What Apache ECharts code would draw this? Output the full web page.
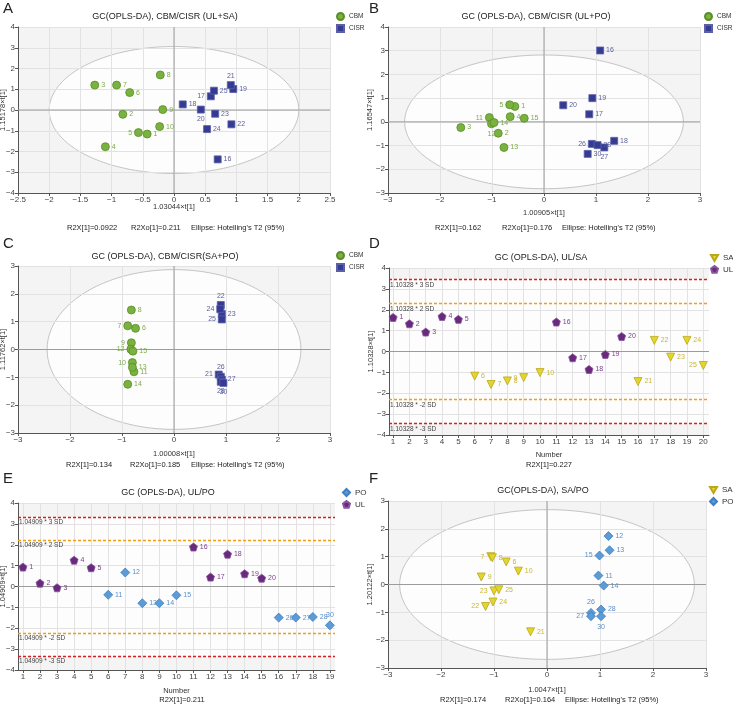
<!DOCTYPE html>
<html>
<head>
<meta charset="utf-8">
<script src="https://cdn.jsdelivr.net/npm/echarts@6/dist/echarts.min.js"></script>
<style>html,body{margin:0;padding:0;background:#fff}#main{width:733px;height:706px}</style>
</head>
<body>
<div id="main"></div>
<script>
// ---- A: CBM/CISR (UL+SA)
var aCbmId = [1, 2, 3, 4, 5, 6, 7, 8, 9, 10];
var aCbmX = [-0.43, -0.82, -1.27, -1.10, -0.57, -0.71, -0.92, -0.22, -0.18, -0.23];
var aCbmY = [-1.16, -0.21, 1.20, -1.77, -1.09, 0.84, 1.20, 1.69, 0.02, -0.80];
var aCisrId = [16, 17, 18, 19, 20, 21, 22, 23, 24, 25];
var aCisrX = [0.70, 0.59, 0.14, 0.95, 0.43, 0.91, 0.92, 0.66, 0.53, 0.64];
var aCisrY = [-2.38, 0.66, 0.27, 1.01, 0.02, 1.20, -0.69, -0.18, -0.92, 0.93];
var aEllipse = [2.0, 3.06];

// ---- B: CBM/CISR (UL+PO)
var bCbmId = [1, 2, 3, 4, 5, 11, 12, 13, 14, 15];
var bCbmX = [-0.56, -0.88, -1.60, -0.65, -0.66, -1.05, -1.01, -0.77, -0.96, -0.38];
var bCbmY = [0.65, -0.48, -0.24, 0.22, 0.72, 0.18, -0.08, -1.08, -0.03, 0.15];
var bCisrId = [16, 17, 18, 19, 20, 26, 27, 28, 30];
var bCisrX = [1.08, 0.87, 1.35, 0.93, 0.37, 0.92, 1.16, 1.03, 0.84];
var bCisrY = [3.01, 0.32, -0.80, 1.00, 0.70, -0.93, -1.08, -0.98, -1.35];
var bEllipse = [2.68, 2.82];

// ---- C: CBM/CISR (SA+PO)
var cCbmId = [6, 7, 8, 9, 10, 11, 12, 13, 14, 15];
var cCbmX = [-0.74, -0.89, -0.82, -0.82, -0.80, -0.77, -0.83, -0.80, -0.89, -0.79];
var cCbmY = [0.76, 0.85, 1.42, 0.24, -0.47, -0.80, 0.01, -0.64, -1.25, -0.06];
var cCisrId = [21, 22, 23, 24, 25, 26, 27, 28, 30];
var cCisrX = [0.86, 0.90, 0.92, 0.89, 0.92, 0.90, 0.92, 0.90, 0.95];
var cCisrY = [-0.90, 1.60, 1.28, 1.45, 1.08, -0.98, -1.08, -1.16, -1.20];
var cEllipse = [2.44, 2.87];

// ---- D: UL/SA
var dUlN = [1, 2, 3, 4, 5, 11, 12, 13, 14, 15];
var dUlId = [1, 2, 3, 4, 5, 16, 17, 18, 19, 20];
var dUlY = [1.63, 1.33, 0.93, 1.68, 1.54, 1.41, -0.30, -0.86, -0.14, 0.72];
var dSaN = [6, 7, 8, 9, 10, 16, 17, 18, 19, 20];
var dSaId = [6, 7, 8, 9, 10, 21, 22, 23, 24, 25];
var dSaY = [-1.18, -1.58, -1.41, -1.25, -1.01, -1.44, 0.53, -0.27, 0.53, -0.67];
var dSd = [2.30, 3.45];
var dTicks = [1, 2, 3, 4, 5, 6, 7, 8, 9, 10, 11, 12, 13, 14, 15, 16, 17, 18, 19, 20];

// ---- E: UL/PO
var eUlN = [1, 2, 3, 4, 5, 11, 12, 13, 14, 15];
var eUlId = [1, 2, 3, 4, 5, 16, 17, 18, 19, 20];
var eUlY = [0.93, 0.16, -0.06, 1.26, 0.90, 1.89, 0.45, 1.55, 0.61, 0.40];
var ePoN = [6, 7, 8, 9, 10, 16, 17, 18, 19];
var ePoId = [11, 12, 13, 14, 15, 26, 27, 28, 30];
var ePoY = [-0.40, 0.67, -0.80, -0.80, -0.42, -1.49, -1.49, -1.46, -1.86];
var eSd = [2.22, 3.33];
var eTicks = [1, 2, 3, 4, 5, 6, 7, 8, 9, 10, 11, 12, 13, 14, 15, 16, 17, 18, 19];

// ---- F: SA/PO
var fSaId = [6, 7, 8, 9, 10, 21, 22, 23, 24, 25];
var fSaX = [-0.77, -1.06, -1.03, -1.24, -0.54, -0.31, -1.16, -1.00, -1.02, -0.91];
var fSaY = [0.81, 1.00, 0.96, 0.27, 0.48, -1.70, -0.79, -0.23, -0.63, -0.19];
var fPoId = [11, 12, 13, 14, 15, 26, 27, 28, 30];
var fPoX = [0.97, 1.16, 1.18, 1.07, 0.99, 0.83, 0.83, 1.02, 1.02];
var fPoY = [0.32, 1.74, 1.23, -0.04, 1.04, -1.02, -1.14, -0.90, -1.14];
var fEllipse = [2.78, 2.69];

// label placement per sample id (default right)
var posA = {5: 'left', 17: 'left', 20: 'bottom', 21: 'top'};
var posB = {5: 'left', 11: 'left', 12: 'bottom', 26: 'left', 27: 'bottom'};
var posC = {7: 'left', 9: 'left', 10: 'left', 12: 'left', 21: 'left', 22: 'top', 24: 'left', 25: 'left', 26: 'top', 28: 'bottom', 30: 'bottom'};
var posD = {9: 'left', 25: 'left'};
var posE = {30: 'top'};
var posF = {7: 'left', 15: 'left', 22: 'left', 23: 'left', 26: 'top', 27: 'left', 30: 'bottom'};

var FONT = '"Liberation Sans", Arial, sans-serif';
var GREEN = '#79b23f', NAVY = '#353b93', PURPLE = '#69297c', YELLOW = '#e3d52c', BLUE = '#5b9bd6';
var RED = '#d42020', ORANGE = '#f0a010';
var PENT = 'path://M0,-10L9.51,-3.09L5.88,8.09L-5.88,8.09L-9.51,-3.09Z';
var TRI = 'path://M-10,-8L10,-8L0,9Z';

var myChart = echarts.init(document.getElementById('main'));

function minus(v) {
    return (v < 0 ? '\u2212' : '') + Math.abs(v);
}

function axis(gi, min, max, interval, name, gap) {
    return {
        type: 'value', gridIndex: gi, min: min, max: max, interval: interval,
        name: name, nameLocation: 'middle', nameGap: gap, nameMoveOverlap: false,
        nameTextStyle: {fontSize: 7.5, color: '#333', fontFamily: FONT},
        axisLine: {show: true, onZero: false, lineStyle: {color: '#555', width: 1}},
        axisTick: {show: true, length: 3, lineStyle: {color: '#555'}},
        axisLabel: {fontSize: 8, color: '#444', margin: 3, fontFamily: FONT, formatter: minus},
        splitLine: {show: true, lineStyle: {color: '#e2e2e2', width: 1}}
    };
}

function numAxis(gi, min, max, ticks, gap) {
    var a = axis(gi, min, max, null, 'Number', gap);
    delete a.interval;
    a.axisLabel.customValues = ticks;
    a.axisTick.customValues = ticks;
    return a;
}

function scatter(name, gi, xs, ys, ids, pos, symbol, color, border, labelColor, size) {
    var data = ids.map(function (id, i) {
        return {name: String(id), value: [xs[i], ys[i]], label: {position: pos[id] || 'right'}};
    });
    return {
        type: 'scatter', name: name, xAxisIndex: gi, yAxisIndex: gi, z: 2,
        symbol: symbol, symbolSize: size, data: data,
        itemStyle: {color: color, borderColor: border, borderWidth: 0.8, opacity: 1},
        label: {show: true, formatter: '{b}', fontSize: 7, color: labelColor, distance: 2, fontFamily: FONT},
        emphasis: {disabled: true}
    };
}

function ellipse(gi, r) {
    return {
        type: 'custom', xAxisIndex: gi, yAxisIndex: gi, z: -1, silent: true, data: [[0, 0]],
        renderItem: function (params, api) {
            var pts = [];
            for (var i = 0; i < 200; i++) {
                var t = Math.PI * 2 * i / 200;
                pts.push(api.coord([r[0] * Math.cos(t), r[1] * Math.sin(t)]));
            }
            return {type: 'polygon', shape: {points: pts}, style: {fill: 'rgba(255,255,255,0.8)', stroke: '#c4c4c4', lineWidth: 1}};
        }
    };
}

function sdLines(sd, k, coef, color) {
    return {
        silent: true, symbol: 'none', animation: false,
        lineStyle: {color: color, type: [3, 2], width: 1.3, opacity: 1},
        label: {show: true, position: 'insideStartBottom', fontSize: 6.5, color: '#444', fontFamily: FONT, distance: [1, 2]},
        data: [
            {yAxis: sd, label: {formatter: coef + ' * ' + k + ' SD'}},
            {yAxis: -sd, label: {formatter: coef + ' * ' + (-k) + ' SD'}}
        ]
    };
}

function zeroLines(gi, xr, yr, vertical, band) {
    var s = {
        type: 'custom', xAxisIndex: gi, yAxisIndex: gi, z: 1, silent: true, data: [[xr[0], 0]],
        renderItem: function (params, api) {
            var a = api.coord([xr[0], 0]), b = api.coord([xr[1], 0]);
            var kids = [{type: 'line', shape: {x1: a[0], y1: a[1], x2: b[0], y2: b[1]}, style: {stroke: '#9c9c9c', lineWidth: 1}}];
            if (vertical) {
                var c = api.coord([0, yr[0]]), d = api.coord([0, yr[1]]);
                kids.push({type: 'line', shape: {x1: c[0], y1: c[1], x2: d[0], y2: d[1]}, style: {stroke: '#9c9c9c', lineWidth: 1}});
            }
            return {type: 'group', children: kids};
        }
    };
    if (band) s.markLine = sdLines(band.sd[0], 2, band.coef, ORANGE);
    return s;
}

function sdBand(gi, xr, sd, coef) {
    return {
        type: 'custom', xAxisIndex: gi, yAxisIndex: gi, z: -1, silent: true, data: [[xr[0], 0]],
        renderItem: function (params, api) {
            var a = api.coord([xr[0], sd[1]]), b = api.coord([xr[1], -sd[1]]);
            return {type: 'rect', shape: {x: a[0], y: a[1], width: b[0] - a[0], height: b[1] - a[1]}, style: {fill: 'rgba(255,255,255,0.8)'}};
        },
        markLine: sdLines(sd[1], 3, coef, RED)
    };
}

function txt(text, left, top, size, align) {
    return {
        text: text, left: left, top: top, padding: 0, textAlign: align || 'left',
        textStyle: {fontSize: size, fontWeight: 'normal', color: '#222', fontFamily: FONT}
    };
}

function legend(items, left, top, size, font) {
    return {
        data: items, orient: 'vertical', left: left, top: top, padding: 0,
        itemWidth: size, itemHeight: size, itemGap: 3, selectedMode: false,
        textStyle: {fontSize: font, color: '#333', fontFamily: FONT}
    };
}

var grids = [
    {left: 18, top: 27, width: 312, height: 166},
    {left: 388, top: 27, width: 312, height: 166},
    {left: 18, top: 266, width: 312, height: 167},
    {left: 389, top: 268, width: 320, height: 167},
    {left: 18, top: 503, width: 317, height: 167},
    {left: 388, top: 501, width: 318, height: 167}
].map(function (g) {
    g.show = true;
    g.backgroundColor = '#f4f4f4';
    g.borderWidth = 0;
    g.z = -2;
    g.containLabel = false;
    g.outerBoundsMode = 'none';
    return g;
});

var xAxes = [
    axis(0, -2.5, 2.5, 0.5, '1.03044\u00d7t[1]', 10),
    axis(1, -3, 3, 1, '1.00905\u00d7t[1]', 16),
    axis(2, -3, 3, 1, '1.00008\u00d7t[1]', 17),
    numAxis(3, 0.75, 20.35, dTicks, 16),
    numAxis(4, 0.71, 19.3, eTicks, 17),
    axis(5, -3, 3, 1, '1.0047\u00d7t[1]', 18)
];

var yAxes = [
    axis(0, -4, 4, 1, '1.15178\u00d7t[1]', 11),
    axis(1, -3, 4, 1, '1.16547\u00d7t[1]', 14),
    axis(2, -3, 3, 1, '1.11762\u00d7t[1]', 11),
    axis(3, -4, 4, 1, '1.10328\u00d7t[1]', 14),
    axis(4, -4, 4, 1, '1.04909\u00d7t[1]', 11),
    axis(5, -3, 3, 1, '1.20122\u00d7t[1]', 14)
];

var titles = [
    txt('A', 3, 1, 15), txt('B', 369, 1, 15), txt('C', 3, 236, 15),
    txt('D', 369, 236, 15), txt('E', 3, 471, 15), txt('F', 369, 471, 15),
    txt('GC(OPLS-DA), CBM/CISR (UL+SA)', 165, 12, 9, 'center'),
    txt('GC (OPLS-DA), CBM/CISR (UL+PO)', 536, 12, 9, 'center'),
    txt('GC (OPLS-DA), CBM/CISR(SA+PO)', 165, 252, 9, 'center'),
    txt('GC (OPLS-DA), UL/SA', 541, 253, 9, 'center'),
    txt('GC (OPLS-DA), UL/PO', 168, 488, 9, 'center'),
    txt('GC(OPLS-DA), SA/PO', 543, 486, 9, 'center'),
    txt('R2X[1]=0.0922', 67, 224, 7.5), txt('R2Xo[1]=0.211', 131, 224, 7.5), txt("Ellipse: Hotelling's T2 (95%)", 191, 224, 7.5),
    txt('R2X[1]=0.162', 435, 224, 7.5), txt('R2Xo[1]=0.176', 502, 224, 7.5), txt("Ellipse: Hotelling's T2 (95%)", 562, 224, 7.5),
    txt('R2X[1]=0.134', 66, 461, 7.5), txt('R2Xo[1]=0.185', 130, 461, 7.5), txt("Ellipse: Hotelling's T2 (95%)", 191, 461, 7.5),
    txt('R2X[1]=0.227', 549, 461, 7.5, 'center'),
    txt('R2X[1]=0.211', 182, 696, 7.5, 'center'),
    txt('R2X[1]=0.174', 440, 696, 7.5), txt('R2Xo[1]=0.164', 505, 696, 7.5), txt("Ellipse: Hotelling's T2 (95%)", 565, 696, 7.5)
];

var legends = [
    legend(['CBM', 'CISR'], 336, 12, 7, 6.5),
    legend(['CBM', 'CISR'], 704, 12, 7, 6.5),
    legend(['CBM', 'CISR'], 336, 251, 7, 6.5),
    legend([{name: 'SA', icon: TRI}, {name: 'UL', icon: PENT}], 710, 254, 7, 8),
    legend([{name: 'PO', icon: 'diamond'}, {name: 'UL', icon: PENT}], 342, 488, 7, 8),
    legend([{name: 'SA', icon: TRI}, {name: 'PO', icon: 'diamond'}], 709, 486, 7, 8)
];

var series = [
    ellipse(0, aEllipse), zeroLines(0, [-2.5, 2.5], [-4, 4], true),
    scatter('CBM', 0, aCbmX, aCbmY, aCbmId, posA, 'circle', GREEN, '#5b8c2a', '#7da94a', 8),
    scatter('CISR', 0, aCisrX, aCisrY, aCisrId, posA, 'rect', NAVY, '#5a5fa8', '#5b5f9e', 7),

    ellipse(1, bEllipse), zeroLines(1, [-3, 3], [-3, 4], true),
    scatter('CBM', 1, bCbmX, bCbmY, bCbmId, posB, 'circle', GREEN, '#5b8c2a', '#7da94a', 8),
    scatter('CISR', 1, bCisrX, bCisrY, bCisrId, posB, 'rect', NAVY, '#5a5fa8', '#5b5f9e', 7),

    ellipse(2, cEllipse), zeroLines(2, [-3, 3], [-3, 3], true),
    scatter('CBM', 2, cCbmX, cCbmY, cCbmId, posC, 'circle', GREEN, '#5b8c2a', '#7da94a', 8),
    scatter('CISR', 2, cCisrX, cCisrY, cCisrId, posC, 'rect', NAVY, '#5a5fa8', '#5b5f9e', 7),

    sdBand(3, [0.75, 20.35], dSd, '1.10328'),
    zeroLines(3, [0.75, 20.35], null, false, {sd: dSd, coef: '1.10328'}),
    scatter('SA', 3, dSaN, dSaY, dSaId, posD, TRI, YELLOW, '#b9a81c', '#c9b63a', 8),
    scatter('UL', 3, dUlN, dUlY, dUlId, posD, PENT, PURPLE, '#8a55a0', '#7b3d8f', 8),

    sdBand(4, [0.71, 19.3], eSd, '1.04909'),
    zeroLines(4, [0.71, 19.3], null, false, {sd: eSd, coef: '1.04909'}),
    scatter('PO', 4, ePoN, ePoY, ePoId, posE, 'diamond', BLUE, '#3f7fc2', '#5b8fc8', 9),
    scatter('UL', 4, eUlN, eUlY, eUlId, posE, PENT, PURPLE, '#8a55a0', '#7b3d8f', 8),

    ellipse(5, fEllipse), zeroLines(5, [-3, 3], [-3, 3], true),
    scatter('SA', 5, fSaX, fSaY, fSaId, posF, TRI, YELLOW, '#b9a81c', '#c9b63a', 8),
    scatter('PO', 5, fPoX, fPoY, fPoId, posF, 'diamond', BLUE, '#3f7fc2', '#5b8fc8', 9)
];

var option = {
    backgroundColor: '#fff',
    animation: false,
    textStyle: {fontFamily: FONT},
    title: titles,
    legend: legends,
    grid: grids,
    xAxis: xAxes,
    yAxis: yAxes,
    series: series
};

myChart.setOption(option);
</script>
</body>
</html>
